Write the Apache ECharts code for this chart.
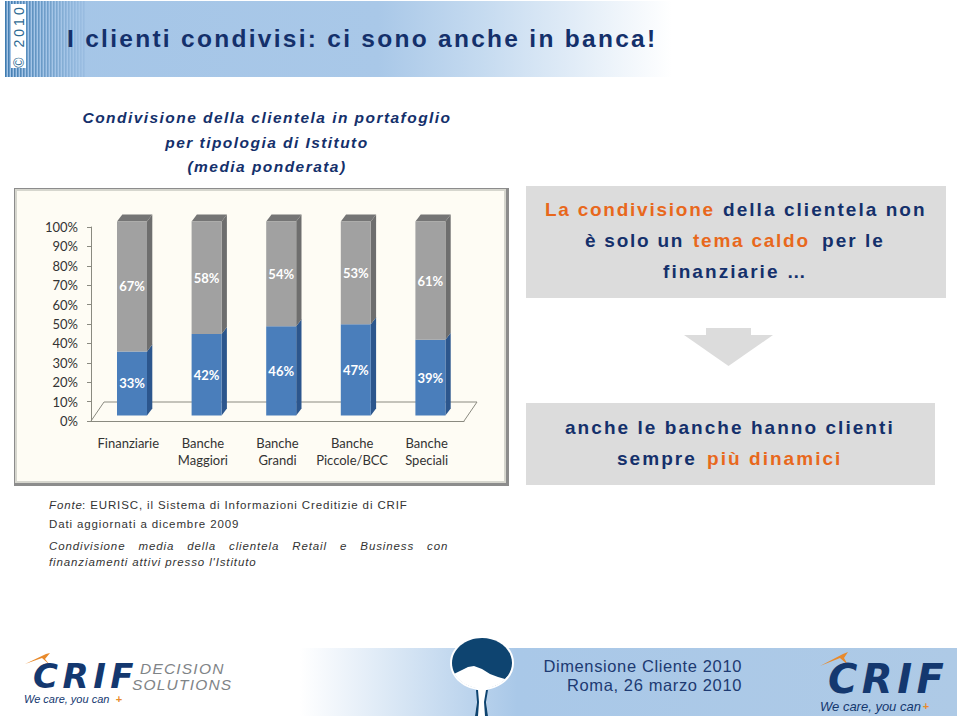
<!DOCTYPE html>
<html><head><meta charset="utf-8">
<script src="https://cdn.jsdelivr.net/npm/echarts@6/dist/echarts.min.js"></script>
<style>
html,body{margin:0;padding:0;background:#fff}
#c{width:960px;height:717px}
svg text[style*="lsTitle"]{letter-spacing:2.28px}
svg text[style*="lsSub"]{letter-spacing:1.45px}
svg text[style*="lsBox"]{letter-spacing:2.05px}
svg text[style*="lsBoxB"]{letter-spacing:1.75px}
svg text[style*="lsNote"]{letter-spacing:.88px}
svg text[style*="lsJust"]{letter-spacing:.88px;word-spacing:9px}
svg text[style*="lsFoot"]{letter-spacing:.62px}
svg text[style*="lsSide"]{letter-spacing:3px}
svg text[style*="lsLogo"]{letter-spacing:1.2px}
svg text[style*="lsCrif"]{letter-spacing:4.5px}
</style></head><body><div id="c"></div>
<script>
const categories = ['Finanziarie','Banche\nMaggiori','Banche\nGrandi','Banche\nPiccole/BCC','Banche\nSpeciali'];
const blueValues = [33,42,46,47,39];
const grayValues = [67,58,54,53,61];
const titleText = 'I clienti condivisi: ci sono anche in banca!';
const subtitleLines = ['Condivisione della clientela in portafoglio','per tipologia di Istituto','(media ponderata)'];

const NAVY='#14306b', ORANGE='#e8681c', FAM='"Liberation Sans"';
function T(text,x,y,font,fill,align,extra){
  return Object.assign({type:'text',x:x,y:y,z:10,silent:true,style:{text:text,font:font,fill:fill,textAlign:align||'left',textVerticalAlign:'middle'}},extra||{});
}
function R(x,y,w,h,fill,z){return {type:'rect',z:z===undefined?-1:z,silent:true,shape:{x:x,y:y,width:w,height:h},style:{fill:fill}};}
function P(points,fill,z){return {type:'polygon',z:z===undefined?1:z,silent:true,shape:{points:points},style:{fill:fill}};}
function hGrad(stops){return {type:'linear',x:0,y:0,x2:1,y2:0,colorStops:stops};}

const box=`bold 19px ${FAM}, lsBox`, boxB=`bold 19px ${FAM}, lsBoxB`;
const note=`11.5px ${FAM}, lsNote`, noteI=`italic 11.5px ${FAM}, lsNote`;
const foot=`16.5px ${FAM}, lsFoot`;
const gfx=[];

/* header band */
gfx.push(R(5,1,667,76,hGrad([{offset:0,color:'#a4c5e7'},{offset:.56,color:'#a9c8e8'},{offset:.72,color:'#c6dbf0'},{offset:1,color:'#ffffff'}])));
for(let i=0;i<27;i++){const a=Math.max(.1,.85-i*.03);
  gfx.push({type:'rect',z:-1,silent:true,shape:{x:5+i*3,y:1,width:1.6,height:76},style:{fill:'#2f6fa6',opacity:a}});}
gfx.push(R(11,4,15,64,'#ffffff',0));
gfx.push(T('© 2010',18.5,36,`14px ${FAM}, lsSide`,'#2d6a94','center',{rotation:Math.PI/2}));
gfx.push(T(titleText,67,38,`bold 24.5px ${FAM}, lsTitle`,NAVY));
const subY=[117,142,166];
subtitleLines.forEach((s,i)=>gfx.push(T(s,267,subY[i],`italic bold 15.5px ${FAM}, lsSub`,NAVY,'center')));

/* chart panel */
gfx.push(R(14,188,495,298,'#8c8c8c',-3));
gfx.push(R(15,189,491,294,'#d6d6ce',-3));
gfx.push(R(17,191,487,290,'#fefcf4',-3));

/* right boxes and arrow */
gfx.push(R(526,186,420,112,'#dcdcdc'));
gfx.push(R(526,403,409,82,'#dcdcdc'));
gfx.push(R(706,328,45,8,'#dcdcdc'));
gfx.push(P([[684,335],[773,335],[728.5,366]],'#dcdcdc',-1));
[['La condivisione',545,209,ORANGE,boxB],['della clientela non',723,209,NAVY,box],
 ['è solo un',585,240,NAVY,boxB],['tema caldo',693,240,ORANGE,boxB],['per le',822,240,NAVY,box],
 ['finanziarie …',663,271,NAVY,box],
 ['anche le banche hanno clienti',565,427,NAVY,box],
 ['sempre',617,458,NAVY,box],['più dinamici',707,458,ORANGE,box]
].forEach(a=>gfx.push(T(a[0],a[1],a[2],a[4],a[3])));

/* notes */
gfx.push(T('Fonte',49,505,noteI,'#333333'));
gfx.push(T(': EURISC, il Sistema di Informazioni Creditizie di CRIF',82,505,note,'#333333'));
gfx.push(T('Dati aggiornati a dicembre 2009',49,524,note,'#333333'));
gfx.push(T('Condivisione media della clientela Retail e Business con',49,545.5,`italic 11.5px ${FAM}, lsJust`,'#333333'));
gfx.push(T("finanziamenti attivi presso l'Istituto",49,561.5,noteI,'#333333'));

/* footer band */
gfx.push(R(300,648,657,68,hGrad([{offset:0,color:'#ffffff'},{offset:.33,color:'#a9c8e8'},{offset:1,color:'#aecae6'}])));
gfx.push(T('Dimensione Cliente 2010',742,666,foot,'#1d3a72','right'));
gfx.push(T('Roma, 26 marzo 2010',742,685,foot,'#1d3a72','right'));

/* spoon */
gfx.push({type:'ellipse',z:1,silent:true,shape:{cx:482,cy:663,rx:32,ry:27},style:{fill:'#ffffff'}});
gfx.push({type:'ellipse',z:2,silent:true,shape:{cx:482,cy:663,rx:30,ry:25},style:{fill:'#0e4470'}});
const spoonWave=[[474,666],[482,669],[490,674],[498,677],[505,679]];
const spoonArc=[];
for(let a=25;a<=155;a+=10){const t=a*Math.PI/180;spoonArc.push([482+30.5*Math.cos(t),663+25.5*Math.sin(t)]);}
gfx.push(P(spoonWave.concat(spoonArc,[[462,670],[468,667]]),'#ffffff',3));
gfx.push(P([[477,688],[487,688],[486,700],[488,716],[475,716],[477,700]],'#ffffff',3));
gfx.push(P([[476,690],[478,690],[479,702],[478,716],[475,716],[477,702]],'#0e4470',4));
gfx.push(P([[486,690],[488,690],[486,702],[488,716],[485,716],[484,702]],'#0e4470',4));

/* logos */
function logo(x,y,size,wx,wy,wsize,px,py,sw){
  gfx.push(T('CRIF',x,y,`italic bold ${size}px "DejaVu Sans", lsCrif`,'#14386f'));
  gfx.push(T('We care, you can',wx,wy,`italic ${wsize}px ${FAM}`,'#14386f'));
  gfx.push(T('+',px,py,`bold 11px ${FAM}`,'#e88a2c','center'));
  gfx.push(P(sw,'#e88a2c',5));
}
logo(33,676,34,24,699,11,119,699,[[25,664],[46,654],[50,653],[45,659],[50,665],[42,658]]);
logo(828,679,40,820,706,13,926,705.5,[[820,666],[843,654],[848,652],[844,658],[848,665],[840,658]]);
gfx.push(T('DECISION',140,668.5,`italic 15.5px ${FAM}, lsLogo`,'#7f8487'));
gfx.push(T('SOLUTIONS',132,684.5,`italic 15.5px ${FAM}, lsLogo`,'#7f8487'));

/* stacked 3D-look bars: [category index, start, end, stack part] */
const barData=[];
categories.forEach((c,i)=>{barData.push([i,0,blueValues[i],0]);barData.push([i,blueValues[i],blueValues[i]+grayValues[i],1]);});
const FACE=['#4a7ebb','#a1a1a1'], SIDE=['#2c568d','#6e6e6e'], TOPC='#757575';

function renderBar(params,api){
  const p0=api.coord([api.value(0),api.value(1)]), p1=api.coord([api.value(0),api.value(2)]);
  const part=api.value(3), w=30, cx=p0[0]+3.7, x=cx-w/2, dy=-5.5, dx=5.3, up=7;
  const y0=p0[1]+dy, y1=p1[1]+dy, kids=[];
  kids.push({type:'polygon',shape:{points:[[x+w,y1],[x+w+dx,y1-up],[x+w+dx,y0-up],[x+w,y0]]},style:{fill:SIDE[part]}});
  if(part===1) kids.push({type:'polygon',shape:{points:[[x,y1],[x+dx,y1-up],[x+w+dx,y1-up],[x+w,y1]]},style:{fill:TOPC}});
  kids.push({type:'rect',shape:{x:x,y:y1,width:w,height:y0-y1},style:{fill:FACE[part]}});
  kids.push({type:'text',x:cx,y:(y0+y1)/2,style:{text:(api.value(2)-api.value(1))+'%',font:'bold 13px Lato',fill:'#ffffff',textAlign:'center',textVerticalAlign:'middle'}});
  return {type:'group',children:kids};
}
function renderFloor(params,api){
  const a=api.coord([0,0]), n=categories.length, bw=api.size([1,0])[0];
  const L=a[0]-bw/2, Rr=L+bw*n, y=a[1];
  return {type:'polyline',z2:-1,shape:{points:[[L,y],[L+13,y-19],[Rr+13,y-19],[Rr,y]]},style:{fill:null,stroke:'#8a8a80',lineWidth:1}};
}

const chart=echarts.init(document.getElementById('c'),null,{renderer:'svg',width:960,height:717});
chart.setOption({
  animation:false,
  backgroundColor:'#ffffff',
  graphic:{elements:gfx},
  grid:{left:91,right:496,top:227,bottom:296,containLabel:false},
  xAxis:{type:'category',data:categories,
    axisLine:{lineStyle:{color:'#8a8a80'}},axisTick:{length:4,lineStyle:{color:'#8a8a80'}},
    axisLabel:{color:'#333333',fontFamily:'Lato',fontSize:13,lineHeight:17,margin:13,interval:0}},
  yAxis:{type:'value',min:0,max:100,interval:10,splitLine:{show:false},
    axisLine:{show:true,lineStyle:{color:'#8a8a80'}},axisTick:{show:true,length:4,lineStyle:{color:'#8a8a80'}},
    axisLabel:{color:'#333333',fontFamily:'Lato',fontSize:13,margin:13,formatter:'{value}%'}},
  series:[
    {type:'custom',coordinateSystem:'cartesian2d',silent:true,data:[[0,0]],renderItem:renderFloor,z:1},
    {type:'custom',coordinateSystem:'cartesian2d',silent:true,data:barData,encode:{x:0,y:[1,2]},renderItem:renderBar,z:3}
  ]
});
</script></body></html>
